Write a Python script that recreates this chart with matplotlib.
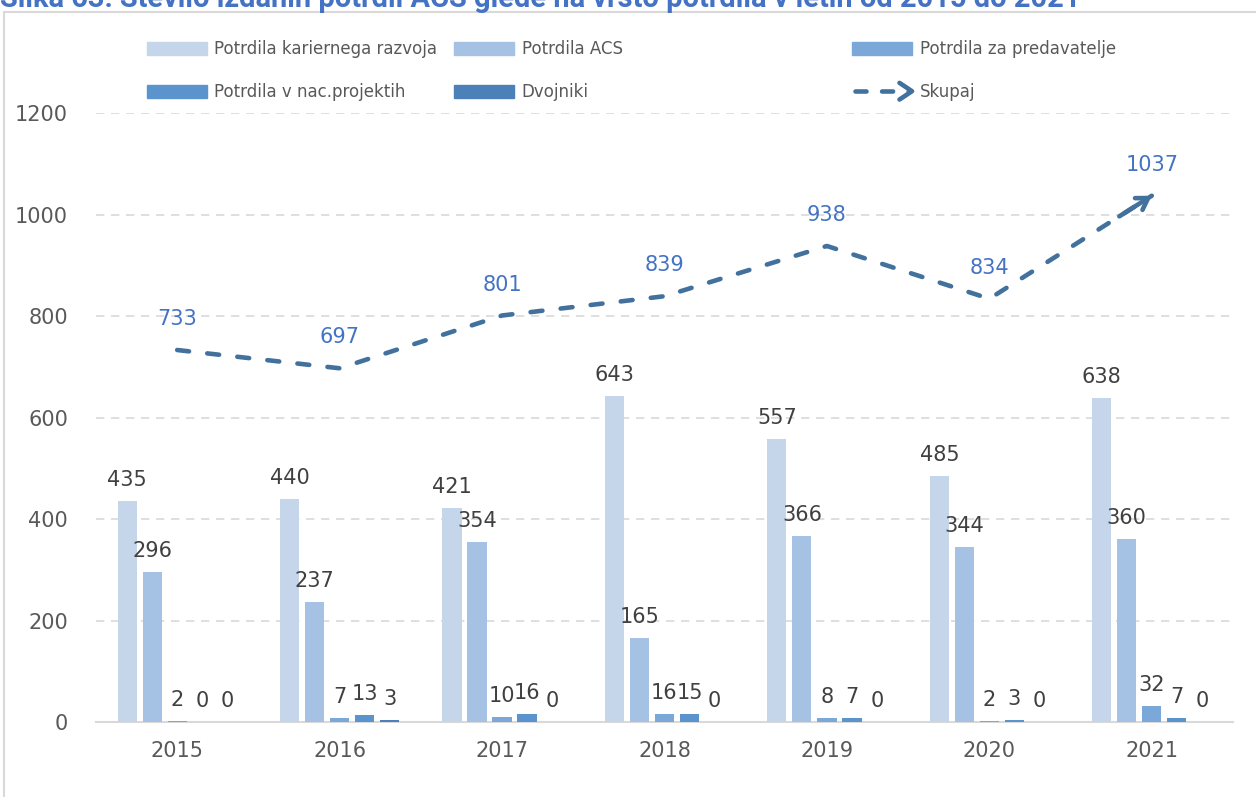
import numpy as np
import matplotlib.pyplot as plt
from matplotlib.lines import Line2D
from matplotlib.patches import Patch, Rectangle
from matplotlib.legend_handler import HandlerBase

plt.rcParams['font.family'] = ['DejaVu Sans']

years = ['2015', '2016', '2017', '2018', '2019', '2020', '2021']
kariernega = [435, 440, 421, 643, 557, 485, 638]
acs = [296, 237, 354, 165, 366, 344, 360]
predavatelje = [2, 7, 10, 16, 8, 2, 32]
nac_projekti = [0, 13, 16, 15, 7, 3, 7]
dvojniki = [0, 3, 0, 0, 0, 0, 0]
skupaj = [733, 697, 801, 839, 938, 834, 1037]

series = [
    ('Potrdila kariernega razvoja', kariernega, '#C5D5EA'),
    ('Potrdila ACS', acs, '#A5C1E4'),
    ('Potrdila za predavatelje', predavatelje, '#7BA7D9'),
    ('Potrdila v nac.projektih', nac_projekti, '#5B94CD'),
    ('Dvojniki', dvojniki, '#4B80B9'),
]
line_color = '#41719C'
label_blue = '#4472C4'
text_gray = '#595959'
dash_style = (0, (2.6, 4.0))

fig = plt.figure(figsize=(12.56, 7.97), dpi=100)
ax = fig.add_axes([0.0764, 0.0941, 0.9053, 0.7641])

# outer chart border
fig.patches.append(Rectangle((4 / 1256, -0.01), 1.1, 1 - 12 / 797 + 0.01,
                             transform=fig.transFigure, fill=False,
                             edgecolor='#D9D9D9', lw=1.5))

# caption above the chart frame, scaled to its width
title = fig.text(0.0, 1 - 7 / 797,
                 'Slika 63: Število izdanih potrdil ACS glede na vrsto potrdila v letih od 2015 do 2021',
                 color=label_blue, fontsize=20, fontweight='bold', family='Roboto',
                 ha='left', va='baseline')
fig.canvas.draw()
tw = title.get_window_extent().width
title.set_fontsize(20 * 1077 / tw)

x = np.arange(len(years))
step = 0.154
width = 0.118
handles = []
for i, (name, vals, col) in enumerate(series):
    pos = x + (i - 2) * step
    ax.bar(pos, vals, width, color=col, zorder=3)
    handles.append(Patch(color=col, label=name))
    for xp, v in zip(pos, vals):
        ax.annotate(str(v), (xp, v), xytext=(0, 8), textcoords='offset points',
                    ha='center', va='bottom', fontsize=15, color='#404040')

# total line with arrow at the end
ax.plot(x, skupaj, color=line_color, lw=3.3, ls=dash_style,
        dash_capstyle='round', zorder=4)
start = (x[-1] - 0.2 * (x[-1] - x[-2]), skupaj[-1] - 0.2 * (skupaj[-1] - skupaj[-2]))
ax.annotate('', xy=(x[-1], skupaj[-1]), xytext=start,
            arrowprops=dict(arrowstyle='->,head_length=0.8,head_width=0.5',
                            color=line_color, lw=3.3, shrinkA=0, shrinkB=0,
                            capstyle='round'),
            zorder=5)
for xp, v in zip(x, skupaj):
    ax.annotate(str(v), (xp, v), xytext=(0, 15), textcoords='offset points',
                ha='center', va='bottom', fontsize=15, color=label_blue)

ax.set_xlim(-0.5, len(years) - 0.5)
ax.set_ylim(0, 1200)
ax.set_yticks(range(0, 1201, 200))
ax.set_xticks(x)
ax.set_xticklabels(years)
ax.tick_params(axis='both', length=0, labelsize=15, colors=text_gray)
ax.tick_params(axis='y', pad=20)
ax.tick_params(axis='x', pad=14)
ax.grid(axis='y', color='#D9D9D9', lw=1.2, ls=(0, (5, 4)), zorder=0)
for s in ['left', 'right', 'top']:
    ax.spines[s].set_visible(False)
ax.spines['bottom'].set_color('#D9D9D9')
ax.spines['bottom'].set_linewidth(1.5)


class ArrowHandler(HandlerBase):
    def create_artists(self, legend, orig_handle, xdescent, ydescent,
                       width, height, fontsize, trans):
        y = height / 2 - ydescent
        x0, x1 = -xdescent, width - xdescent
        dash = Line2D([x0 + 2, x1 - 2], [y, y], color=line_color, lw=3.3,
                      ls=(0, (2.4, 3.4)), dash_capstyle='round', transform=trans)
        head = Line2D([x1 - 9, x1, x1 - 9], [y + 6, y, y - 6], color=line_color,
                      lw=3.3, solid_capstyle='round', transform=trans)
        return [dash, head]


line_handle = Line2D([], [], color=line_color, label='Skupaj')
columns = [
    ([handles[0], handles[3]], 147),
    ([handles[1], handles[4]], 454),
    ([handles[2], line_handle], 852),
]
for hs, px in columns:
    fig.legend(handles=hs, loc='upper left',
               bbox_to_anchor=(px / 1256, 1 - 40 / 797),
               frameon=False, fontsize=12, borderpad=0, borderaxespad=0,
               handlelength=3.6, handleheight=0.8,
               handletextpad=0.45, labelspacing=1.5, labelcolor=text_gray,
               handler_map={Line2D: ArrowHandler()})

fig.savefig('out.png', dpi=100)
